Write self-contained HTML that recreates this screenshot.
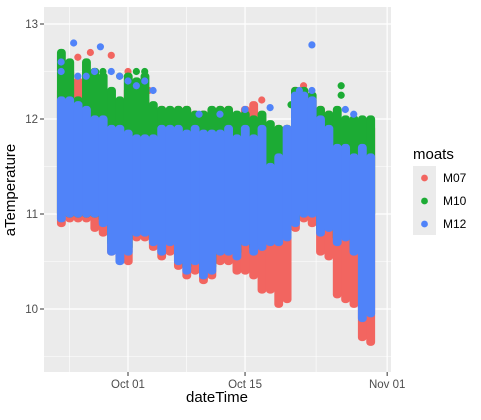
<!DOCTYPE html>
<html><head><meta charset="utf-8"><style>
body{margin:0;background:#fff;font-family:"Liberation Sans",sans-serif}
svg text{font-family:"Liberation Sans",sans-serif}
</style></head><body>
<svg id="chart" width="481" height="415" xmlns="http://www.w3.org/2000/svg">
<rect x="44" y="7" width="347" height="365" fill="#ebebeb"/>
<g id="grid"></g><g id="marks"></g><g id="axes"></g>
<text x="15" y="190" transform="rotate(-90 15 190)" text-anchor="middle" font-size="15" fill="#000">aTemperature</text>
<text x="217" y="402" text-anchor="middle" font-size="15" fill="#000">dateTime</text>
<g>
<text x="413" y="159" font-size="15">moats</text>
<rect x="413" y="166" width="23" height="69" fill="#ebebeb"/>
<circle cx="424.5" cy="178" r="3.4" fill="#F26560"/>
<circle cx="424.5" cy="201" r="3.4" fill="#1CAB34"/>
<circle cx="424.5" cy="224" r="3.4" fill="#5083F9"/>
<text x="443" y="182" font-size="12">M07</text>
<text x="443" y="205" font-size="12">M10</text>
<text x="443" y="228" font-size="12">M12</text>
</g>
</svg>
<script>
const days=[-8,-7,-6,-5,-4,-3,-2,-1,0,1,2,3,4,5,6,7,8,9,10,11,12,13,14,15,16,17,18,19,20,21,22,23,24,25,26,27,28,29];
const m07Low=[10.9,10.95,10.95,10.95,10.85,10.8,10.6,10.55,10.5,10.75,10.75,10.65,10.55,10.6,10.45,10.35,10.4,10.3,10.35,10.5,10.5,10.4,10.4,10.35,10.2,10.2,10.05,10.1,10.85,10.95,10.9,10.6,10.55,10.15,10.1,10.05,9.7,9.65];
const m07High=[12.3,12.5,12.4,12.3,12.3,12.2,12.2,12.1,12.3,12.2,12.2,12.1,12.1,12.05,12.1,12.1,12.05,12.05,12.05,12.1,12.1,12.0,12.1,12.15,12.0,11.9,11.9,11.9,12.3,12.3,12.2,12.1,12.05,12.0,11.95,11.9,11.9,11.9];
const m10Low=[11.0,11.0,11.0,11.0,11.0,10.95,10.7,10.6,10.65,10.85,10.85,10.75,10.7,10.75,10.55,10.45,10.55,10.4,10.45,10.65,10.65,10.6,10.75,10.65,10.7,10.75,10.75,10.8,10.95,11.05,11.05,10.85,10.9,10.75,10.8,10.65,11.0,11.0];
const m10High=[12.7,12.6,12.2,12.6,12.5,12.45,12.3,12.2,12.45,12.4,12.45,12.15,12.1,12.1,12.1,12.1,12.05,12.05,12.1,12.1,12.1,12.05,12.05,12.0,12.05,11.95,11.9,11.9,12.3,12.3,12.25,12.1,12.05,12.1,12.0,12.0,12.0,12.0];
const m12Low=[10.95,11.0,11.0,11.0,11.0,10.9,10.6,10.5,10.6,10.8,10.8,10.7,10.6,10.7,10.5,10.4,10.5,10.35,10.4,10.6,10.6,10.55,10.7,10.6,10.65,10.7,10.7,10.75,10.9,11.0,11.0,10.8,10.85,10.7,10.75,10.6,9.9,9.95];
const m12High=[12.2,12.2,12.15,12.1,12.0,12.0,11.9,11.9,11.85,11.8,11.8,11.8,11.9,11.9,11.9,11.85,11.9,11.85,11.85,11.85,11.9,11.8,11.9,11.8,11.9,11.5,11.6,11.9,12.25,12.25,12.2,12.0,11.9,11.7,11.7,11.6,11.7,11.6];
const m07OutDays=[-6,-4.5,-2,0,2.5,16,21];
const m07OutTemps=[12.65,12.7,12.67,12.5,12.3,12.2,12.35];
const m10OutDays=[-8,-5,-3,-1,0,1,2,19.5,25.5,25.5];
const m10OutTemps=[12.7,12.6,12.5,12.45,12.45,12.5,12.5,12.15,12.35,12.25];
const m12OutDays=[-8,-8,-6.5,-5,-3.3,-4,-2,-1,0,1,2,3,-6,22,20.5,22,14,17,26,27,8.5,11];
const m12OutTemps=[12.6,12.5,12.8,12.45,12.76,12.5,12.5,12.45,12.4,12.35,12.4,12.3,12.45,12.78,12.3,12.3,12.1,12.12,12.1,12.05,12.05,12.05];
const yTicks=[10,11,12,13];
const xTickDays=[0,14,31];
const xTickLabels=["Oct 01","Oct 15","Nov 01"];

const NS="http://www.w3.org/2000/svg";
const X=d=>128+d*8.36;
const Y=t=>24+(13-t)*95;
function mk(tag,attrs,parent){const e=document.createElementNS(NS,tag);for(const k in attrs)e.setAttribute(k,attrs[k]);parent.appendChild(e);return e;}
const grid=document.getElementById('grid'),marks=document.getElementById('marks'),axes=document.getElementById('axes');
for(let i=0;i<yTicks.length;i++){
  const t=yTicks[i]-0.5;
  const l=mk('line',{x1:44,x2:391,y1:Y(t),y2:Y(t),stroke:'#fff','stroke-width':0.6},grid);
  
  
}
const xm=[-7,7,22.5];
for(const d of xm){
  const l=mk('line',{x1:X(d),x2:X(d),y1:7,y2:372,stroke:'#fff','stroke-width':0.6},grid);
  
  
}
for(const t of yTicks){
  const l=mk('line',{x1:44,x2:391,y1:Y(t),y2:Y(t),stroke:'#fff','stroke-width':1.2},grid);
  
  
  const tk=mk('line',{x1:40,x2:44,y1:Y(t),y2:Y(t),stroke:'#333','stroke-width':1},axes);
  
  
  const tx=mk('text',{x:38,y:Y(t)+4,'text-anchor':'end','font-size':'11.5',fill:'#4d4d4d'},axes);
  tx.textContent=String(t);
  
  
}
for(let i=0;i<xTickDays.length;i++){
  const x=X(xTickDays[i]);
  const l=mk('line',{x1:x,x2:x,y1:7,y2:372,stroke:'#fff','stroke-width':1.2},grid);
  
  
  const tk=mk('line',{x1:x,x2:x,y1:372,y2:376,stroke:'#333','stroke-width':1},axes);
  
  
  const tx=mk('text',{x:x,y:388,'text-anchor':'middle','font-size':'11.5',fill:'#4d4d4d'},axes);
  tx.textContent=xTickLabels[i];
  
  
}
const series=[
 ['m07','#F26560',m07Low,m07High,m07OutDays,m07OutTemps],
 ['m10','#1CAB34',m10Low,m10High,m10OutDays,m10OutTemps],
 ['m12','#5083F9',m12Low,m12High,m12OutDays,m12OutTemps]];
for(const [name,col,lo,hi,od,ot] of series){
  const g=mk('g',{},marks);
  
  
  for(let i=0;i<days.length;i++){
    const x0=X(days[i]-0.5),x1=X(days[i]+0.5);
    const y0=Y(hi[i])-3.6,y1=Y(lo[i])+3.6;
    const r=mk('rect',{x:x0,y:y0,width:x1-x0+0.5,height:Math.max(0,y1-y0),rx:3.6,fill:col},g);
    
    
  }
  for(let i=0;i<od.length;i++){
    const c=mk('circle',{cx:X(od[i]),cy:Y(ot[i]),r:3.6,fill:col},g);
    
    
  }
}
</script>
</body></html>
